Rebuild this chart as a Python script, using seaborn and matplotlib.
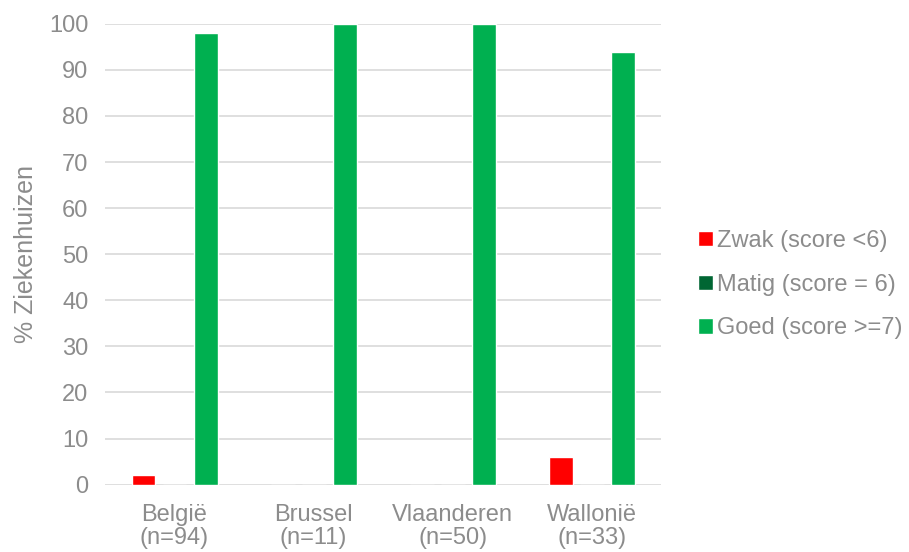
import matplotlib
matplotlib.use("Agg")
import matplotlib.pyplot as plt
import seaborn as sns
import pandas as pd

regions = ["België\n(n=94)", "Brussel\n(n=11)", "Vlaanderen\n(n=50)", "Wallonië\n(n=33)"]
series = ["Zwak (score <6)", "Matig (score = 6)", "Goed (score >=7)"]
zwak = [2.1, 0.0, 0.0, 6.1]
matig = [0.0, 0.0, 0.0, 0.0]
goed = [97.9, 100.0, 100.0, 93.9]
colors = ["#FF0000", "#006633", "#00B050"]

df = pd.DataFrame({
    "regio": regions * 3,
    "score": [series[0]] * 4 + [series[1]] * 4 + [series[2]] * 4,
    "pct": zwak + matig + goed,
})

sns.set_theme(style="white")
plt.rcParams["font.family"] = ["Liberation Sans", "DejaVu Sans"]
txt = "#8C8C8C"

fig = plt.figure(figsize=(9.09, 5.52), dpi=100)
ax = fig.add_axes([0.1155, 0.122, 0.612, 0.835])

sns.barplot(data=df, x="regio", y="pct", hue="score", hue_order=series,
            palette=colors, width=0.67, gap=0.23, ax=ax, legend=True,
            saturation=1)

ax.set_ylim(0, 100)
ax.set_yticks(range(0, 101, 10))
ax.set_xlim(-0.5, 3.5)
ax.yaxis.grid(True, color="#D9D9D9", linewidth=1.2)
ax.set_axisbelow(True)
for s in ax.spines.values():
    s.set_visible(False)
ax.tick_params(axis="both", colors=txt, labelsize=17, length=0)
ax.tick_params(axis="y", pad=12)
ax.tick_params(axis="x", pad=14)
for lbl in ax.get_xticklabels():
    lbl.set_linespacing(1.08)
ax.set_xlabel("")
ax.set_ylabel("% Ziekenhuizen", color=txt, fontsize=18, labelpad=8)

handles, labels = ax.get_legend_handles_labels()
ax.legend(handles, labels, loc="center left", bbox_to_anchor=(1.037, 0.434),
          frameon=False, fontsize=17, labelcolor=txt, handlelength=0.62,
          handleheight=0.62, handletextpad=0.18, labelspacing=0.92,
          borderpad=0.2)

fig.savefig("out.png", dpi=100)
